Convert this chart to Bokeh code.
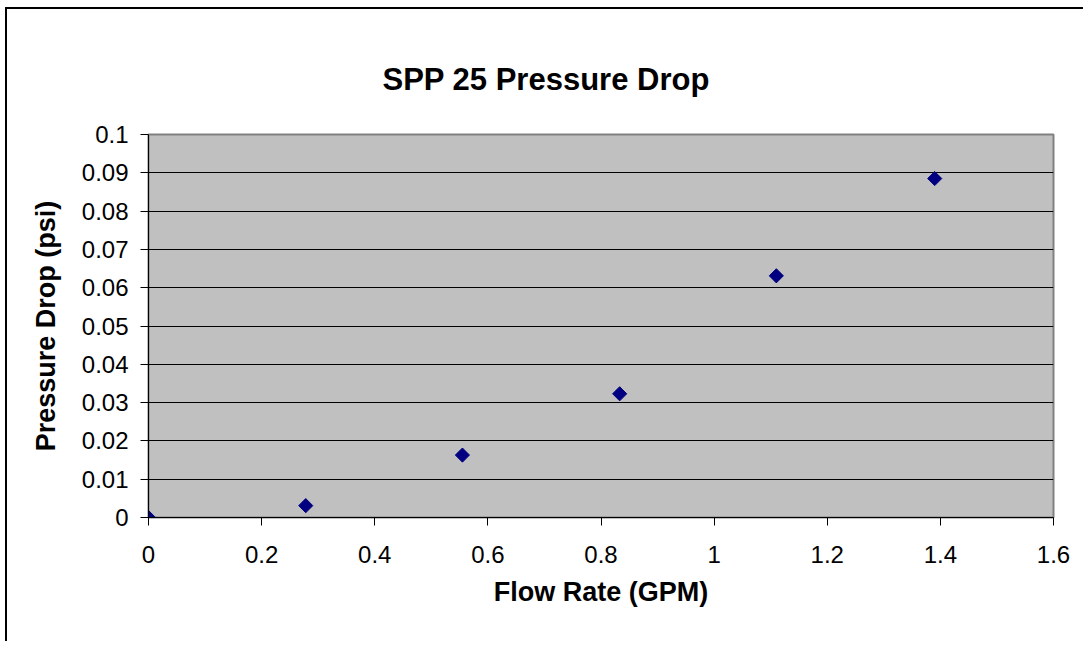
import numpy as np
from bokeh.plotting import figure
from bokeh.models import FixedTicker, Range1d, Title
from bokeh.embed import file_html
from bokeh.resources import INLINE

# Data
flow_gpm = [0.0, 0.278, 0.555, 0.833, 1.11, 1.39]
pressure_psi = [0.0, 0.0031, 0.0163, 0.0323, 0.0631, 0.0885]

x_ticks = [0, 0.2, 0.4, 0.6, 0.8, 1.0, 1.2, 1.4, 1.6]
y_ticks = [0, 0.01, 0.02, 0.03, 0.04, 0.05, 0.06, 0.07, 0.08, 0.09, 0.1]
x_labels = {0: "0", 0.2: "0.2", 0.4: "0.4", 0.6: "0.6", 0.8: "0.8", 1.0: "1",
            1.2: "1.2", 1.4: "1.4", 1.6: "1.6"}
y_labels = {0: "0", 0.01: "0.01", 0.02: "0.02", 0.03: "0.03", 0.04: "0.04",
            0.05: "0.05", 0.06: "0.06", 0.07: "0.07", 0.08: "0.08", 0.09: "0.09",
            0.1: "0.1"}
title_text = "SPP 25 Pressure Drop"

FONT = "Liberation Sans"

p = figure(width=1078, height=634, output_backend="svg", toolbar_location=None,
           x_range=Range1d(0, 1.6), y_range=Range1d(0, 0.1),
           min_border_left=141, min_border_right=32, min_border_top=125,
           min_border_bottom=126)
p.styles = {"border-left": "2px solid black", "border-top": "2px solid black",
            "margin-left": "5px", "margin-top": "7px"}

p.title = Title(text=title_text, align="left", offset=234,
                standoff=71, vertical_align="top",
                text_font=FONT, text_font_size="31px", text_font_style="bold",
                text_color="black")

p.background_fill_color = "#C0C0C0"
p.border_fill_color = "white"
p.outline_line_color = "#808080"
p.outline_line_width = 2

p.xgrid.grid_line_color = None
p.ygrid.ticker = FixedTicker(ticks=y_ticks[1:-1])
p.ygrid.grid_line_color = "black"
p.ygrid.grid_line_width = 1

for ax, ticks, labels in ((p.xaxis[0], x_ticks, x_labels), (p.yaxis[0], y_ticks, y_labels)):
    ax.ticker = FixedTicker(ticks=ticks)
    ax.major_label_overrides = labels
    ax.major_tick_in = 0
    ax.major_tick_out = 8
    ax.minor_tick_in = 0
    ax.minor_tick_out = 0
    ax.axis_line_color = "black"
    ax.major_tick_line_color = "black"
    ax.major_label_text_font = FONT
    ax.major_label_text_font_size = "24px"
    ax.major_label_text_color = "black"
    ax.axis_label_text_font = FONT
    ax.axis_label_text_font_size = "27px"
    ax.axis_label_text_font_style = "bold"
    ax.axis_label_text_color = "black"

p.xaxis.axis_label = "Flow Rate (GPM)"
p.yaxis.axis_label = "Pressure Drop (psi)"
p.xaxis.major_label_standoff = 20
p.xaxis.axis_label_standoff = 11
p.yaxis.major_label_standoff = 12
p.yaxis.axis_label_standoff = 18

p.scatter(flow_gpm, pressure_psi, marker="square", size=10, angle=np.pi / 4,
          fill_color="#000080", line_color="#000080")

open("out.html", "w").write(file_html(p, INLINE))
